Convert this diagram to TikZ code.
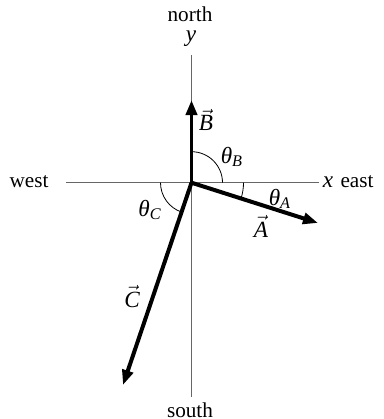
\documentclass[tikz,border=0pt]{standalone}
\usepackage{amsmath,amssymb}
\usepackage{fontspec}
\setmainfont{Liberation Serif}
\usetikzlibrary{arrows.meta}

\begin{document}
\begin{tikzpicture}[x=0.5pt,y=0.5pt,>={Triangle[length=7.5pt,width=5.5pt]},
  axis/.style={gray!80!black,line width=0.6pt},
  vec/.style={->,line width=2pt},
  lbl/.style={font=\fontsize{10.6}{12}\selectfont,inner sep=0pt},
  mlbl/.style={font=\fontsize{11.6}{13}\selectfont,inner sep=0pt}]
\useasboundingbox (0,0) rectangle (384,419);
\coordinate (O) at (191.5,236.3);
\coordinate (W) at (66,236.3);
\coordinate (E) at (319,236.3);
\coordinate (N) at (191.5,364);
\coordinate (S) at (191.5,22);
\coordinate (Atip) at (318,196);
\coordinate (Btip) at (191.5,319);
\coordinate (Ctip) at (123,34);
% axes
\draw[axis] (W) -- (E);
\draw[axis] (S) -- (N);
\node[mlbl] (xlab) at (328,237) {\textit{x}};
\node[lbl] (east) at (357,237) {east};
\node[lbl] (west) at (29,237) {west};
\node[mlbl] (ylab) at (191,380) {\textit{y}};
\node[lbl] (north) at (190,405) {north};
\node[lbl] (south) at (190,9) {south};
% angles
\draw[line width=0.4pt] ([shift={(0:15.5pt)}]O) arc (0:90:15.5pt);
\draw[line width=0.4pt] ([shift={(0:26pt)}]O) arc (0:-17.7:26pt);
\draw[line width=0.4pt] ([shift={(180:15.5pt)}]O) arc (180:251.3:15.5pt);
\node[mlbl] (thB) at (232,262) {$\textit{θ}_{\textit{B}}$};
\node[mlbl] (thA) at (280,220) {$\textit{θ}_{\textit{A}}$};
\node[mlbl] (thC) at (150,209) {$\textit{θ}_{\textit{C}}$};
% vectors
\draw[vec] (O) -- (Atip);
\draw[vec] (O) -- (Btip);
\draw[vec] (O) -- (Ctip);
\node[mlbl] (Alab) at (261,193) {$\vec{\textit{A}}$};
\node[mlbl] (Blab) at (206,299) {$\vec{\textit{B}}$};
\node[mlbl] (Clab) at (132,122) {$\vec{\textit{C}}$};
\end{tikzpicture}
\end{document}
